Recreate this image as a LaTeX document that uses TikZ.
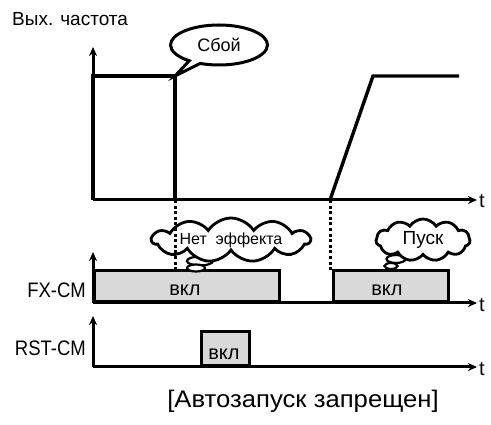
\documentclass[tikz,border=0pt]{standalone}
\usepackage{fontspec}
\setmainfont{Liberation Sans}
\newfontfamily\narrowsans[FakeStretch=0.88]{Liberation Sans}
\newfontfamily\widesans[FakeStretch=1.07]{Liberation Sans}
\usetikzlibrary{arrows.meta,shapes.symbols,shapes.callouts,shapes.geometric,positioning}
\definecolor{tdInk}{RGB}{0,0,0}
\definecolor{tdGrey}{RGB}{217,217,217}
\tikzset{
  axisline/.style={draw=tdInk,line width=3pt,-{Stealth[length=9pt,width=8pt]}},
  sigline/.style={draw=tdInk,line width=3.4pt,line join=miter},
  dotline/.style={draw=tdInk,line width=3pt,dash pattern=on 3pt off 2.6pt},
  onbox/.style={draw=tdInk,fill=tdGrey,line width=3.2pt,inner sep=0pt,anchor=south west},
  txt/.style={inner sep=1pt,font=\fontsize{20}{22}\selectfont},
  sidelabel/.style={inner sep=1pt,anchor=east,font=\narrowsans\fontsize{21}{23}\selectfont},
  puff/.style={draw=tdInk,fill=white,line width=2.8pt,cloud,cloud puffs=11,cloud puff arc=115,
               cloud ignores aspect,inner sep=0pt},
  bubble/.style={draw=tdInk,fill=white,line width=2.2pt,ellipse,inner sep=0pt}
}

\begin{document}
\begin{tikzpicture}[x=1pt,y=-1pt]
  \useasboundingbox (0,0) rectangle (491,425);
  % top chart: output frequency
  \coordinate (o1) at (93,200);
  \coordinate (fail) at (175,200);
  \coordinate (restart) at (330,200);
  \draw[axisline] (o1) -- (93,47);
  \draw[axisline] (o1) -- (477,200);
  \node[txt,anchor=west] (t1) at (478,201) {t};
  \node[txt,anchor=west,font=\fontsize{19}{21}\selectfont] (ylab) at (11,19) {Вых. частота};
  \draw[sigline] (o1) -- (93,76) -- (175,76) -- (fail);
  \draw[sigline] (restart) -- (373,76) -- (459,76);
  \node[ellipse callout,draw=tdInk,fill=white,line width=3pt,minimum width=97pt,minimum height=40pt,
        callout absolute pointer={(175,76)},font=\fontsize{18}{20}\selectfont] (fault) at (219,45) {Сбой};
  % FX-CM
  \coordinate (o2) at (93,303);
  \draw[axisline] (o2) -- (93,252);
  \node[onbox,minimum width=185pt,minimum height=31pt] (fx1) at (o2) {};
  \node[onbox,minimum width=115pt,minimum height=31pt] (fx2) at (332,303) {};
  \draw[axisline] (o2) -- (477,303);
  \node[txt] (fxon1) at (185,290) {вкл};
  \node[txt] (fxon2) at (387,290) {вкл};
  \node[txt,anchor=west] (t2) at (478,305) {t};
  \node[sidelabel] (fxlab) at (87,290) {FX-CM};
  % RST-CM
  \coordinate (o3) at (93,367);
  \draw[axisline] (o3) -- (93,316);
  \node[onbox,minimum width=48pt,minimum height=34pt] (rst) at (200,367) {};
  \draw[axisline] (o3) -- (477,367);
  \node[txt] (rston) at (224,354) {вкл};
  \node[txt,anchor=west] (t3) at (478,369) {t};
  \node[sidelabel] (rstlab) at (87,348) {RST-CM};
  % thought clouds
  \node[bubble,minimum width=26pt,minimum height=9pt] (nb1) at (200,261) {};
  \node[bubble,minimum width=18pt,minimum height=7pt] (nb2) at (196,268) {};
  \node[puff,minimum width=158pt,minimum height=44pt,font=\fontsize{16}{18}\selectfont] (noeff) at (231,240) {Нет\ \ эффекта};
  \node[bubble,minimum width=19pt,minimum height=8pt] (sb1) at (396,259) {};
  \node[bubble,minimum width=13pt,minimum height=6pt] (sb2) at (391,266) {};
  \node[puff,minimum width=94pt,minimum height=42pt,font=\fontsize{19}{21}\selectfont] (start) at (423,240) {Пуск};
  \draw[dotline] (fail) -- (175,271);
  \draw[dotline] (restart) -- (330,271);
  % caption
  \node[txt,font=\widesans\fontsize{24}{26}\selectfont] (caption) at (303,401) {[Автозапуск запрещен]};
\end{tikzpicture}
\end{document}
